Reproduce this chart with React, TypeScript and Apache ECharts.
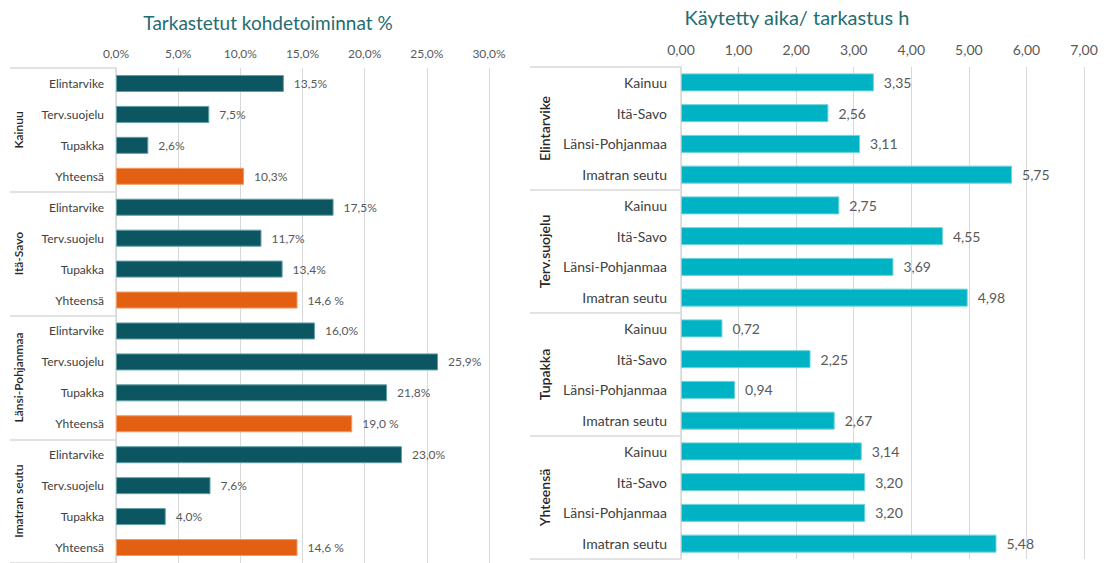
import React, { useEffect, useRef } from "react";
import * as echarts from "echarts";

const regions = ["Kainuu", "Itä-Savo", "Länsi-Pohjanmaa", "Imatran seutu"];
const activities = ["Elintarvike", "Terv.suojelu", "Tupakka", "Yhteensä"];

// Left chart: % inspected per region (rows: activities)
const pctKainuu = [13.5, 7.5, 2.6, 10.3];
const pctItaSavo = [17.5, 11.7, 13.4, 14.6];
const pctLansiPohjanmaa = [16.0, 25.9, 21.8, 19.0];
const pctImatra = [23.0, 7.6, 4.0, 14.6];
const pctByRegion = [pctKainuu, pctItaSavo, pctLansiPohjanmaa, pctImatra];

// Right chart: hours per inspection per activity (rows: regions)
const hElintarvike = [3.35, 2.56, 3.11, 5.75];
const hTervSuojelu = [2.75, 4.55, 3.69, 4.98];
const hTupakka = [0.72, 2.25, 0.94, 2.67];
const hYhteensa = [3.14, 3.2, 3.2, 5.48];
const hByActivity = [hElintarvike, hTervSuojelu, hTupakka, hYhteensa];

const pctTicks = { min: 0, max: 30, interval: 5 };
const hTicks = { min: 0, max: 7, interval: 1 };

const FONT = "Lato, 'Open Sans', sans-serif";
const TEAL = "#0b5660";
const ORANGE = "#e35f12";
const CYAN = "#00b3c4";
const GRID = "#d9d9d9";

export default function App() {
  const ref = useRef<HTMLDivElement>(null);
  useEffect(() => {
    if (!ref.current) return;
    const chart = echarts.init(ref.current, null, { renderer: "svg" });

    const leftIds: string[] = [];
    const leftData: any[] = [];
    regions.forEach((r, ri) => {
      activities.forEach((a, ai) => {
        leftIds.push(r + "|" + a);
        const isTotal = ai === activities.length - 1;
        leftData.push({
          value: pctByRegion[ri][ai],
          spaced: isTotal && ri > 0,
          itemStyle: {
            color: isTotal ? ORANGE : TEAL,
            borderColor: isTotal ? "#f19a62" : "#5f9fa6",
            borderWidth: 1,
          },
        });
      });
    });

    const rightIds: string[] = [];
    const rightData: number[] = [];
    activities.forEach((a, ai) => {
      regions.forEach((r, ri) => {
        rightIds.push(a + "|" + r);
        rightData.push(hByActivity[ai][ri]);
      });
    });

    const afterBar = (v: string) => v.split("|")[1];
    const comma = (v: number, d: number) => v.toFixed(d).replace(".", ",");

    chart.setOption({
      animation: false,
      backgroundColor: "#ffffff",
      textStyle: { fontFamily: FONT },
      title: [
        {
          text: "Tarkastetut kohdetoiminnat %",
          left: 263,
          top: 8,
          textAlign: "center",
          textStyle: { fontFamily: FONT, fontSize: 19, fontWeight: "normal", color: "#1f6d70" },
        },
        {
          text: "Käytetty aika/ tarkastus h",
          left: 792,
          top: 2,
          textAlign: "center",
          textStyle: { fontFamily: FONT, fontSize: 20, fontWeight: "normal", color: "#1f6d70" },
        },
      ],
      grid: [
        { left: 116, width: 373, top: 68, height: 495, outerBoundsMode: "none", containLabel: false },
        { left: 681, width: 403, top: 67, height: 492, outerBoundsMode: "none", containLabel: false },
      ],
      xAxis: [
        {
          gridIndex: 0,
          type: "value",
          position: "top",
          ...pctTicks,
          axisLine: { show: false },
          axisTick: { show: false },
          splitLine: { show: true, lineStyle: { color: GRID, width: 1 } },
          axisLabel: {
            color: "#595959",
            fontSize: 12,
            margin: 9,
            formatter: (v: number) => comma(v, 1) + "%",
          },
        },
        {
          gridIndex: 1,
          type: "value",
          position: "top",
          ...hTicks,
          axisLine: { show: false },
          axisTick: { show: false },
          splitLine: { show: true, lineStyle: { color: GRID, width: 1 } },
          axisLabel: {
            color: "#595959",
            fontSize: 14,
            margin: 11,
            formatter: (v: number) => comma(v, 2),
          },
        },
      ],
      yAxis: [
        {
          gridIndex: 0,
          type: "category",
          position: "left",
          inverse: true,
          data: leftIds,
          axisLine: { show: true, lineStyle: { color: GRID, width: 1.5 } },
          axisTick: { show: false },
          axisLabel: {
            interval: 0,
            margin: 12,
            color: "#404040",
            fontSize: 12,
            formatter: afterBar,
          },
        },
        {
          gridIndex: 0,
          type: "category",
          position: "left",
          inverse: true,
          data: regions,
          axisLine: { show: false },
          axisTick: {
            show: true,
            interval: 0,
            length: 106,
            lineStyle: { color: GRID, width: 1.5 },
          },
          axisLabel: {
            interval: 0,
            rotate: 90,
            margin: 92,
            color: "#262626",
            fontSize: 12,
            fontWeight: 600,
          },
        },
        {
          gridIndex: 1,
          type: "category",
          position: "left",
          inverse: true,
          data: rightIds,
          axisLine: { show: true, lineStyle: { color: GRID, width: 1.5 } },
          axisTick: { show: false },
          axisLabel: {
            interval: 0,
            margin: 14,
            color: "#404040",
            fontSize: 14,
            formatter: afterBar,
          },
        },
        {
          gridIndex: 1,
          type: "category",
          position: "left",
          inverse: true,
          data: activities,
          axisLine: { show: false },
          axisTick: {
            show: true,
            interval: 0,
            length: 151,
            lineStyle: { color: GRID, width: 1.5 },
          },
          axisLabel: {
            interval: 0,
            rotate: 90,
            margin: 130,
            color: "#262626",
            fontSize: 14,
            fontWeight: 600,
          },
        },
      ],
      series: [
        {
          type: "bar",
          xAxisIndex: 0,
          yAxisIndex: 0,
          barWidth: 17,
          data: leftData,
          label: {
            show: true,
            position: "right",
            distance: 10,
            color: "#595959",
            fontSize: 12,
            formatter: (p: any) => comma(p.value, 1) + (p.data.spaced ? " %" : "%"),
          },
        },
        {
          type: "bar",
          xAxisIndex: 1,
          yAxisIndex: 2,
          barWidth: 18,
          data: rightData,
          itemStyle: { color: CYAN, borderColor: "#6fd3dc", borderWidth: 1 },
          label: {
            show: true,
            position: "right",
            distance: 10,
            color: "#595959",
            fontSize: 14,
            formatter: (p: any) => comma(p.value, 2),
          },
        },
      ],
    });
    return () => chart.dispose();
  }, []);

  return (
    <div
      ref={ref}
      style={{ position: "absolute", left: 0, top: 0, width: 1104, height: 563, background: "#fff" }}
    />
  );
}
